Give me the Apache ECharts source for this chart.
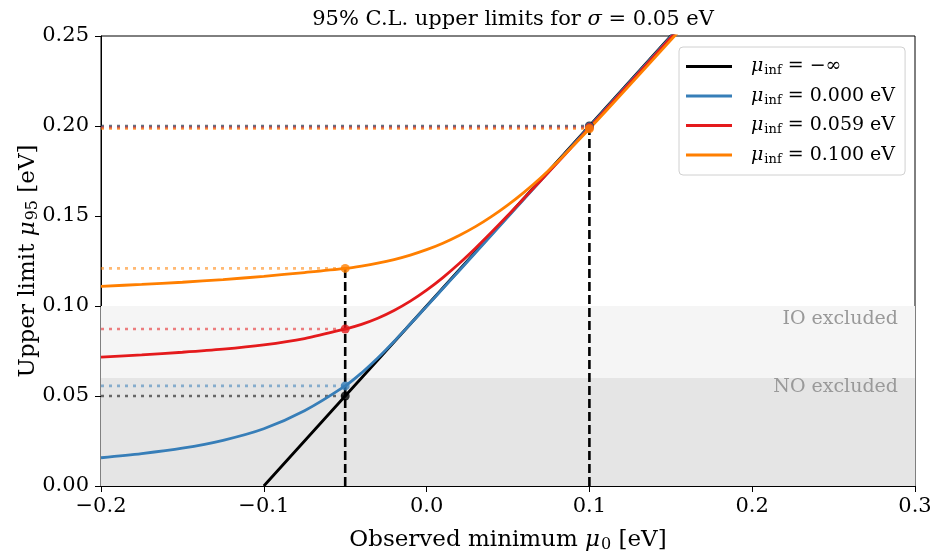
<!DOCTYPE html>
<html><head><meta charset="utf-8">
<script src="https://cdn.jsdelivr.net/npm/echarts@6/dist/echarts.min.js"></script>
<style>html,body{margin:0;padding:0;background:#fff}#c{width:933px;height:556px}</style>
</head><body><div id="c"></div>
<script>
// ---- data ----
const xMin = -0.2, xMax = 0.3, yMin = 0, yMax = 0.25;
const xs = [-0.2,-0.175,-0.15,-0.125,-0.1,-0.075,-0.05,-0.04,-0.03,-0.02,-0.01,0,0.01,0.02,0.03,0.04,0.05,0.06,0.07,0.08,0.09,0.1,0.12,0.15,0.16];
const blackX = [-0.1, -0.05, 0.1, 0.16];
const blackY = [0, 0.05, 0.2, 0.26];
const blueY = [0.0157,0.0180,0.0210,0.0254,0.0318,0.0418,0.0556,0.0628,0.0711,0.0803,0.0900,0.0998,0.1097,0.1196,0.1296,0.1396,0.1496,0.1596,0.1696,0.1796,0.1896,0.1996,0.2196,0.2496,0.2596];
const redY = [0.0716,0.0729,0.0743,0.0760,0.0784,0.0819,0.0872,0.0898,0.0932,0.0975,0.1027,0.1088,0.1158,0.1236,0.1321,0.1411,0.1504,0.1600,0.1696,0.1793,0.1891,0.1991,0.2191,0.2491,0.2591];
const orangeY = [0.1109,0.1120,0.1132,0.1147,0.1165,0.1186,0.1209,0.1222,0.1238,0.1258,0.1283,0.1313,0.1349,0.1392,0.1441,0.1498,0.1562,0.1633,0.1711,0.1797,0.1890,0.1985,0.2180,0.2477,0.2577];
const curveLabels = ['−∞', '0.000 eV', '0.059 eV', '0.100 eV'];
const refX = [-0.05, 0.1];
const bandEdges = [0, 0.06, 0.1];
const bandLabels = ['NO excluded', 'IO excluded'];
const titleText = '95% C.L. upper limits for {i|σ} = 0.05 eV';

// ---- styling ----
const FF = 'DejaVu Serif';
const colors = ['#000000', '#377eb8', '#e41a1c', '#ff7f00'];
const bandColors = ['#e5e5e5', '#f5f5f5'];
const bandPad = [[0, 17, 0, 0], [4, 17, 0, 0]];
const curves = [
  {x: blackX, y: blackY},
  {x: xs, y: blueY},
  {x: xs, y: redY},
  {x: xs, y: orangeY}
];

const series = [];
// shaded bands
series.push({
  type: 'line', data: [], silent: true, z: 1,
  markArea: {
    silent: true,
    data: bandLabels.map((lab, k) => [
      {xAxis: xMin, yAxis: bandEdges[k], name: lab,
       itemStyle: {color: bandColors[k]},
       label: {show: true, position: 'insideTopRight', distance: 0, padding: bandPad[k],
               color: '#999', fontFamily: FF, fontSize: 19}},
      {xAxis: xMax, yAxis: bandEdges[k + 1]}
    ])
  }
});
// dotted horizontal guides
curves.forEach((c, i) => {
  refX.forEach(r => {
    const v = c.y[c.x.indexOf(r)];
    series.push({
      type: 'line', silent: true, symbol: 'none', z: 2,
      data: [[xMin, v], [r, v]],
      lineStyle: {color: colors[i], width: 2.6, type: [3, 5], opacity: 0.55}
    });
  });
});
// dashed vertical guides
refX.forEach(r => {
  const top = Math.max(...curves.map(c => c.y[c.x.indexOf(r)]));
  series.push({
    type: 'line', silent: true, symbol: 'none', z: 3,
    data: [[r, 0], [r, top]],
    lineStyle: {color: '#000', width: 2.6, type: [9, 4]}
  });
});
// curves
curves.forEach((c, i) => {
  series.push({
    name: curveLabels[i], type: 'line', symbol: 'none', z: 4,
    smooth: i > 0 ? 0.3 : false,
    data: c.x.map((x, j) => [x, c.y[j]]),
    itemStyle: {color: colors[i]},
    lineStyle: {color: colors[i], width: 2.8}
  });
});
// dots
curves.forEach((c, i) => {
  series.push({
    type: 'scatter', silent: true, z: 5, symbolSize: 9,
    data: refX.map(r => [r, c.y[c.x.indexOf(r)]]),
    itemStyle: {color: colors[i]}
  });
});

const richLegend = {
  m: {fontFamily: FF, fontStyle: 'italic', fontSize: 19, lineHeight: 22, color: '#000'},
  s: {fontFamily: FF, fontSize: 13, padding: [9, 0, 0, 1], color: '#000'},
  t: {fontFamily: FF, fontSize: 19, lineHeight: 22, color: '#000'}
};

const fmtX = v => { const r = Math.round(v * 10) / 10; return (r < 0 ? '−' : '') + Math.abs(r).toFixed(1); };
const fmtY = v => (Math.round(v * 100) / 100).toFixed(2);

const option = {
  animation: false,
  backgroundColor: '#fff',
  title: {
    text: titleText, left: 508, top: 4, textAlign: 'center',
    textStyle: {fontFamily: FF, fontSize: 21, fontWeight: 'normal', color: '#000',
      rich: {i: {fontFamily: FF, fontStyle: 'italic', fontSize: 21, color: '#000'}}}
  },
  grid: {left: 101, right: 18, top: 36, bottom: 70, outerBoundsMode: 'none', containLabel: false,
         show: true, borderColor: '#000', borderWidth: 1, backgroundColor: 'transparent'},
  legend: {
    data: curveLabels, orient: 'vertical', left: 679, top: 47,
    padding: [10, 10, 9, 7], itemGap: 9, icon: 'rect', itemWidth: 46, itemHeight: 3,
    selectedMode: false,
    backgroundColor: 'rgba(255,255,255,0.85)', borderColor: '#d0d0d0', borderWidth: 1, borderRadius: 4,
    formatter: n => '{m|μ}{s|inf}{t| = ' + n + '}',
    textStyle: {rich: richLegend, padding: [0, 0, 0, 14]}
  },
  xAxis: {
    type: 'value', min: xMin, max: xMax, interval: 0.1,
    axisLine: {show: true, onZero: false, lineStyle: {color: '#000', width: 1}},
    axisTick: {show: true, length: 6, lineStyle: {color: '#000'}},
    splitLine: {show: false},
    axisLabel: {formatter: fmtX, fontFamily: FF, fontSize: 21, color: '#000', margin: 10},
    name: '{t|Observed minimum }{m|μ}{s|0}{t| [eV]}', nameLocation: 'middle', nameGap: 41,
    nameMoveOverlap: false,
    nameTextStyle: {rich: {
      t: {fontFamily: FF, fontSize: 23, color: '#000'},
      m: {fontFamily: FF, fontStyle: 'italic', fontSize: 23, color: '#000'},
      s: {fontFamily: FF, fontSize: 16, padding: [10, 0, 0, 1], color: '#000'}
    }}
  },
  yAxis: {
    type: 'value', min: yMin, max: yMax, interval: 0.05,
    axisLine: {show: true, onZero: false, lineStyle: {color: '#000', width: 1}},
    axisTick: {show: true, length: 6, lineStyle: {color: '#000'}},
    splitLine: {show: false},
    axisLabel: {formatter: fmtY, fontFamily: FF, fontSize: 21, color: '#000', margin: 12},
    name: '{t|Upper limit }{m|μ}{s|95}{t| [eV]}', nameLocation: 'middle', nameGap: 60, nameRotate: 90,
    nameMoveOverlap: false,
    nameTextStyle: {rich: {
      t: {fontFamily: FF, fontSize: 23, color: '#000'},
      m: {fontFamily: FF, fontStyle: 'italic', fontSize: 23, color: '#000'},
      s: {fontFamily: FF, fontSize: 16, padding: [10, 0, 0, 1], color: '#000'}
    }}
  },
  series: series
};

const chart = echarts.init(document.getElementById('c'), null, {renderer: 'canvas'});
chart.setOption(option);
</script></body></html>
